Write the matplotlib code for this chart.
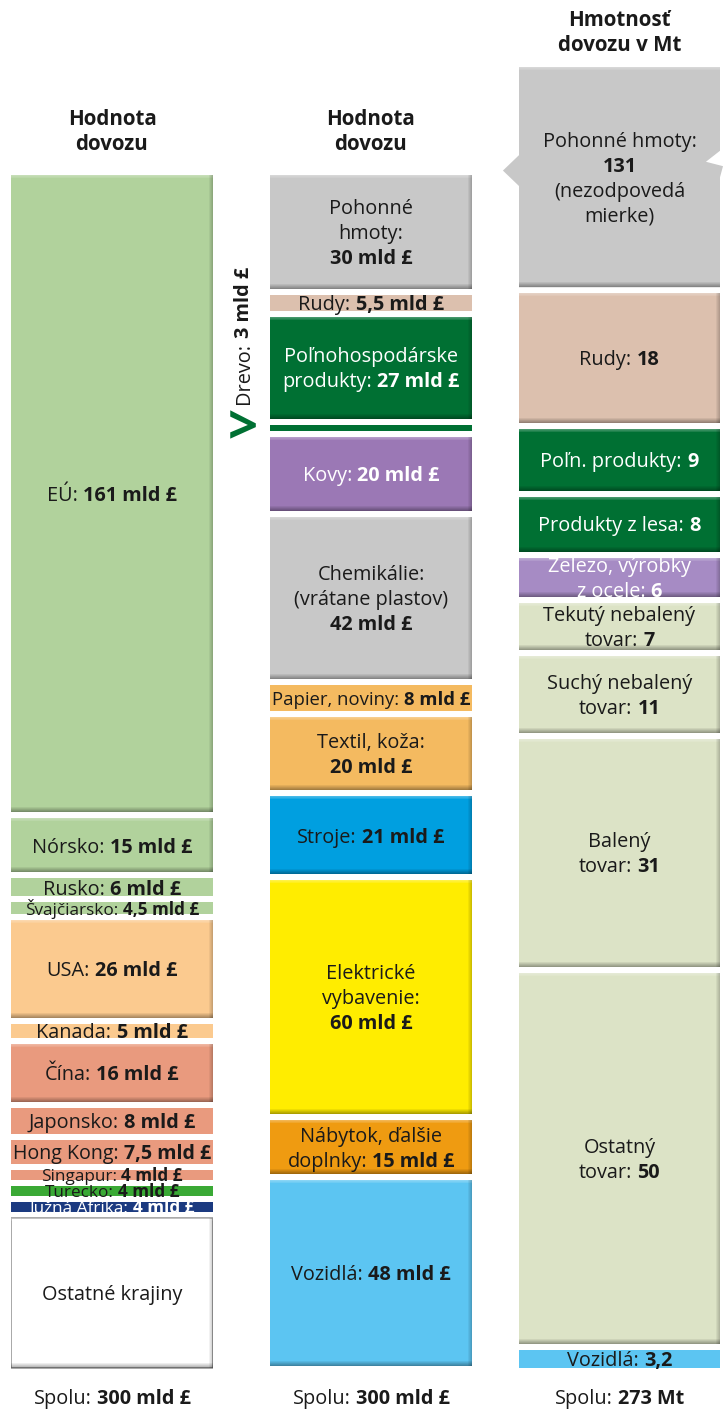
import re
import matplotlib
matplotlib.use("Agg")
import matplotlib.pyplot as plt
from matplotlib.patches import Polygon, Rectangle
from matplotlib.transforms import ScaledTranslation

plt.rcParams['font.family'] = ['Open Sans', 'DejaVu Sans']

# ---- data ----
# column 1: value of imports by country (mld £)
col1_labels = ["EÚ: {v}", "Nórsko: {v}", "Rusko: {v}", "Švajčiarsko: {v}", "USA: {v}",
               "Kanada: {v}", "Čína: {v}", "Japonsko: {v}", "Hong Kong: {v}", "Singapur: {v}",
               "Turecko: {v}", "Južná Afrika: {v}", "Ostatné krajiny"]
col1_values = [161, 15, 6, 4.5, 26, 5, 16, 8, 7.5, 4, 4, 4, 39]
col1_colors = ["#b1d29c", "#b1d29c", "#b1d29c", "#b1d29c", "#fbca8f", "#fbca8f", "#e99a7e",
               "#e99a7e", "#e99a7e", "#e99a7e", "#3aa935", "#1b3a80", "#ffffff"]
col1_total = 300

# column 2: value of imports by goods (mld £)
col2_labels = ["Pohonné\nhmoty:\n{v}", "Rudy: {v}", "Poľnohospodárske\nprodukty: {v}", "",
               "Kovy: {v}", "Chemikálie:\n(vrátane plastov)\n{v}", "Papier, noviny: {v}",
               "Textil, koža:\n{v}", "Stroje: {v}", "Elektrické\nvybavenie:\n{v}",
               "Nábytok, ďalšie\ndoplnky: {v}", "Vozidlá: {v}"]
col2_values = [30, 5.5, 27, 3, 20, 42, 8, 20, 21, 60, 15, 48]
col2_colors = ["#c8c8c8", "#dcc0ae", "#007033", "#007033", "#9b78b5", "#c8c8c8", "#f4ba60",
               "#f4ba60", "#009fe0", "#ffed00", "#ef9b11", "#5cc5f2"]
col2_total = 300
drevo_label = "Drevo: {v}"
drevo_index = 3

# column 3: weight of imports (Mt)
col3_labels = ["Pohonné hmoty:\n{v}\n(nezodpovedá\nmierke)", "Rudy: {v}", "Poľn. produkty: {v}",
               "Produkty z lesa: {v}", "Železo, výrobky\nz ocele: {v}", "Tekutý nebalený\ntovar: {v}",
               "Suchý nebalený\ntovar: {v}", "Balený\ntovar: {v}", "Ostatný\ntovar: {v}", "Vozidlá: {v}"]
col3_values = [131, 18, 9, 8, 6, 7, 11, 31, 50, 3.2]
col3_colors = ["#c8c8c8", "#dcc0ae", "#007033", "#007033", "#a68bc4", "#dce3c6", "#dce3c6",
               "#dce3c6", "#dce3c6", "#5cc5f2"]
col3_total = 273
fuel_drawn = 30  # fuel block is not to scale

headers = ["Hodnota\ndovozu", "Hodnota\ndovozu", "Hmotnosť\ndovozu v Mt"]
footers = ["Spolu: {v}", "Spolu: {v}", "Spolu: {v}"]
footer_values = ["300 mld £", "300 mld £", "273 Mt"]

flat_blocks = {("c1", 2), ("c1", 3), ("c1", 5), ("c1", 7), ("c1", 8), ("c1", 9), ("c1", 10),
               ("c1", 11), ("c2", 1), ("c2", 3), ("c2", 6), ("c3", 9)}
white_text = {"#007033", "#9b78b5", "#a68bc4", "#1b3a80"}

W, H = 723, 1412
DPI = 100
GAP = 6
LABEL_SIZE = 14.3
SMALL_SIZE = 12.3
fig = plt.figure(figsize=(W / DPI, H / DPI), dpi=DPI)
renderer = fig.canvas.get_renderer()


def px_axes(x0, x1, y0, y1):
    ax = fig.add_axes([x0 / W, 1 - y1 / H, (x1 - x0) / W, (y1 - y0) / H])
    ax.axis("off")
    return ax, (x1 - x0), (y1 - y0)


def fmt(v, unit):
    s = f"{v:g}".replace(".", ",")
    return s + unit


def rich(ax, x, y, template, value, color, size, transform, rotation=0, line_px=25, max_w=None):
    lines = template.split("\n")
    n = len(lines)
    for i, line in enumerate(lines):
        segs = [s for s in re.split(r"(\{v\})", line) if s.strip()]
        parts = [(value, "bold") if s == "{v}" else (s.strip(), "normal") for s in segs]
        objs = []
        for s, w in parts:
            t = ax.text(x, y, s, fontsize=size, fontweight=w, color=color, ha="left",
                        va="baseline", transform=transform, clip_on=False,
                        rotation_mode="anchor")
            objs.append(t)
        sz = size
        space = 0.26 * sz * DPI / 72
        widths = [t.get_window_extent(renderer).width for t in objs]
        total = sum(widths) + space * (len(parts) - 1)
        if max_w and total > max_w:
            # shrink a line that does not fit its block
            sz = size * max_w / total
            for t in objs:
                t.set_fontsize(sz)
            space = 0.26 * sz * DPI / 72
            widths = [t.get_window_extent(renderer).width for t in objs]
            total = sum(widths) + space * (len(parts) - 1)
        cap = 0.36 * size * DPI / 72
        along = -total / 2
        across = -(i - (n - 1) / 2) * line_px - cap
        for t, w in zip(objs, widths):
            if rotation == 90:
                dx, dy = -across, along
                t.set_rotation(90)
            else:
                dx, dy = along, across
            t.set_transform(transform + ScaledTranslation(dx / DPI, dy / DPI, fig.dpi_scale_trans))
            along += w + space


def bevel(ax, y0, y1, upp, xpp, right=True):
    for k in range(3):
        ax.add_patch(Rectangle((0, y0 + k * upp), 1, upp, color="white", alpha=0.28 - 0.08 * k, lw=0))
    for k in range(5):
        ax.add_patch(Rectangle((0, y1 - (k + 1) * upp), 1, upp, color="black", alpha=0.065 * (5 - k), lw=0))
    if right:
        for k in range(4):
            ax.add_patch(Rectangle((1 - (k + 1) * xpp, y0), xpp, y1 - y0, color="black",
                                   alpha=0.05 * (4 - k), lw=0))


def draw_column(ax, wpx, hpx, key, values, labels, colors, ymax, unit, drawn=None):
    ax.set_xlim(0, 1)
    ax.set_ylim(ymax, 0)
    upp = ymax / hpx
    xpp = 1 / wpx
    cum = 0
    for i, v in enumerate(values):
        h = drawn[i] if drawn and drawn[i] else v
        b = cum + GAP * upp / 2
        hh = h - GAP * upp
        col = colors[i]
        flat = (key, i) in flat_blocks
        if key == "c3" and i == 0:
            # broken-scale block with torn edges
            f = lambda r: b + r * hh
            pts = [(0, b), (1, b), (1, f(0.38)), (0.93, f(0.43)), (1.015, f(0.45)),
                   (1, f(0.50)), (1, b + hh), (0, b + hh), (0, f(0.54)), (-0.08, f(0.47)),
                   (0, f(0.40))]
            ax.add_patch(Polygon(pts, closed=True, color=col, lw=0, clip_on=False))
            bevel(ax, b, b + hh, upp, xpp, right=False)
        else:
            ec = "#999999" if col == "#ffffff" else "none"
            ax.bar(0.5, hh, bottom=b, width=1, color=col, edgecolor=ec, linewidth=1.2)
            if not flat:
                bevel(ax, b, b + hh, upp, xpp)
        if labels[i]:
            tc = "white" if col in white_text else "#1a1a1a"
            size = LABEL_SIZE if hh / upp > 13 else SMALL_SIZE
            rich(ax, 0.5, cum + h / 2, labels[i], fmt(v, unit), tc, size, ax.transData,
                 max_w=wpx - 4)
        cum += h
    return upp


ax1, w1, h1 = px_axes(11, 213, 172, 1371)
ax2, w2, h2 = px_axes(270, 472, 172, 1371)
ax3, w3, h3 = px_axes(519, 720, 64, 1371)

draw_column(ax1, w1, h1, "c1", col1_values, col1_labels, col1_colors, col1_total, " mld £")
draw_column(ax2, w2, h2, "c2", col2_values, col2_labels, col2_colors, col2_total, " mld £")
col3_drawn = [fuel_drawn] + [None] * (len(col3_values) - 1)
draw_column(ax3, w3, h3, "c3", col3_values, col3_labels, col3_colors,
            fuel_drawn + sum(col3_values[1:]), "", drawn=col3_drawn)

# rotated wood label with arrow, next to the thin strip in column 2
drevo_y = sum(col2_values[:drevo_index]) + col2_values[drevo_index] / 2
ax2.text(-0.135, drevo_y + 3 * col2_total / h2, ">", transform=ax2.get_yaxis_transform(),
         fontsize=38, fontweight="bold", color="#007033", ha="center", va="center", clip_on=False)
drevo_mid = drevo_y - 92 * col2_total / h2
rich(ax2, -0.14, drevo_mid, drevo_label, fmt(col2_values[drevo_index], " mld £"), "#1a1a1a",
     LABEL_SIZE, ax2.get_yaxis_transform(), rotation=90)

# headers and footers
for ax, (hy, head) in zip([ax1, ax2, ax3], [(132, headers[0]), (132, headers[1]), (33, headers[2])]):
    cx = (ax.get_position().x0 + ax.get_position().x1) / 2
    fig.text(cx, 1 - hy / H, head, fontsize=14.8, fontweight="bold", ha="center", va="center",
             linespacing=1.25, color="#1a1a1a")

for ax, hpx, foot, fv in zip([ax1, ax2, ax3], [h1, h2, h3], footers, footer_values):
    rich(ax, 0.5, -(1397 - 1371) / hpx, foot, fv, "#1a1a1a", LABEL_SIZE, ax.transAxes)

fig.savefig("out.png", dpi=DPI, facecolor="white")
